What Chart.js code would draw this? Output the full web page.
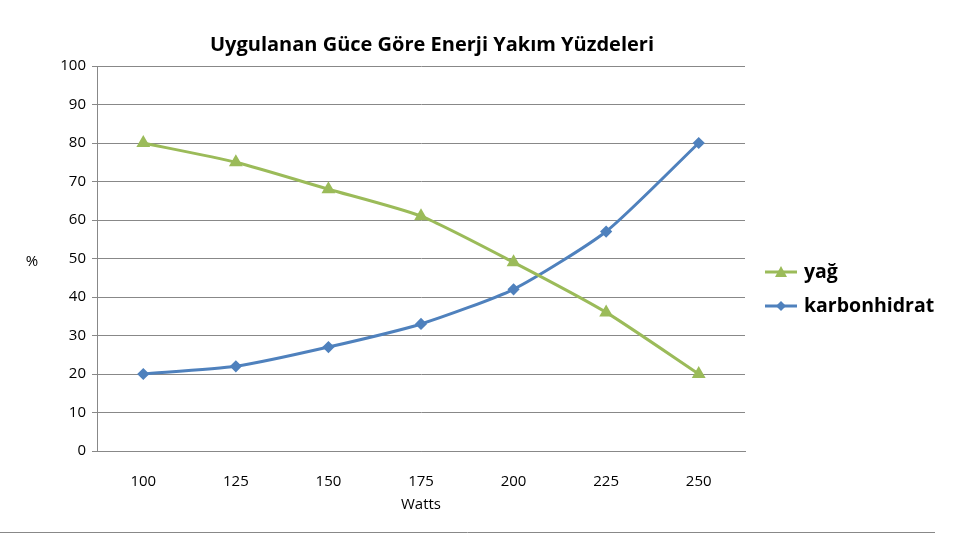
<!DOCTYPE html>
<html><head><meta charset="utf-8">
<script src="https://cdn.jsdelivr.net/npm/chart.js@4"></script>
<style>html,body{margin:0;background:#fff}#wrap{width:959px;height:536px;position:relative}</style>
</head><body><div id="wrap"><canvas id="c"></canvas></div>
<script>
var watts = ["100", "125", "150", "175", "200", "225", "250"];
var yag = [80, 75, 68, 61, 49, 36, 20];
var karbonhidrat = [20, 22, 27, 33, 42, 57, 80];
var FONT = "'Open Sans', sans-serif";

var extras = {
  id: "extras",
  afterDraw: function (chart) {
    var ctx = chart.ctx;
    ctx.save();
    ctx.fillStyle = "#000";
    ctx.textAlign = "center";
    ctx.textBaseline = "middle";
    ctx.font = "bold 20px " + FONT;
    ctx.fillText("Uygulanan Güce Göre Enerji Yakım Yüzdeleri", 432, 45);
    ctx.font = "15px " + FONT;
    ctx.fillText("%", 32, 262);
    ctx.fillText("Watts", 421, 505);
    // legend
    chart.data.datasets.forEach(function (ds, i) {
      var y = 272 + i * 34;
      ctx.strokeStyle = ds.borderColor;
      ctx.lineWidth = 3;
      ctx.beginPath(); ctx.moveTo(765, y); ctx.lineTo(797, y); ctx.stroke();
      ctx.fillStyle = ds.borderColor;
      ctx.beginPath();
      if (ds.pointStyle === "triangle") {
        ctx.moveTo(781, y - 6); ctx.lineTo(787, y + 5); ctx.lineTo(775, y + 5);
      } else {
        ctx.moveTo(781, y - 5); ctx.lineTo(786, y); ctx.lineTo(781, y + 5); ctx.lineTo(776, y);
      }
      ctx.closePath(); ctx.fill();
      ctx.fillStyle = "#000";
      ctx.textAlign = "left";
      ctx.font = "bold 19.5px " + FONT;
      ctx.fillText(ds.label, 804, y);
    });
    ctx.strokeStyle = "#888";
    ctx.lineWidth = 1;
    ctx.beginPath(); ctx.moveTo(0, 532.5); ctx.lineTo(935, 532.5); ctx.stroke();
    ctx.restore();
  }
};

new Chart(document.getElementById("c"), {
  type: "line",
  data: {
    labels: watts,
    datasets: [
      { label: "yağ", data: yag, borderColor: "#9bbb59", backgroundColor: "#9bbb59",
        borderWidth: 3, pointStyle: "triangle", pointRadius: 5, tension: 0.2 },
      { label: "karbonhidrat", data: karbonhidrat, borderColor: "#4f81bd", backgroundColor: "#4f81bd",
        borderWidth: 3, pointStyle: "rectRot", pointRadius: 4, tension: 0.2 }
    ]
  },
  options: {
    responsive: true, maintainAspectRatio: false, animation: false,
    layout: { padding: { left: 50, right: 214, top: 66, bottom: 0 } },
    plugins: { legend: { display: false }, tooltip: { enabled: false } },
    scales: {
      x: {
        offset: true,
        afterFit: function (s) { s.height = 85; },
        grid: { display: false, drawTicks: false },
        border: { color: "#888" },
        ticks: { color: "#000", font: { family: FONT, size: 15 }, padding: 22 }
      },
      y: {
        min: 0, max: 100,
        afterFit: function (s) { s.width = 47; },
        grid: { color: "#888", drawTicks: true, tickLength: 5 },
        border: { color: "#888" },
        ticks: { stepSize: 10, color: "#000", font: { family: FONT, size: 15 }, padding: 6 }
      }
    }
  },
  plugins: [extras]
});
</script></body></html>
